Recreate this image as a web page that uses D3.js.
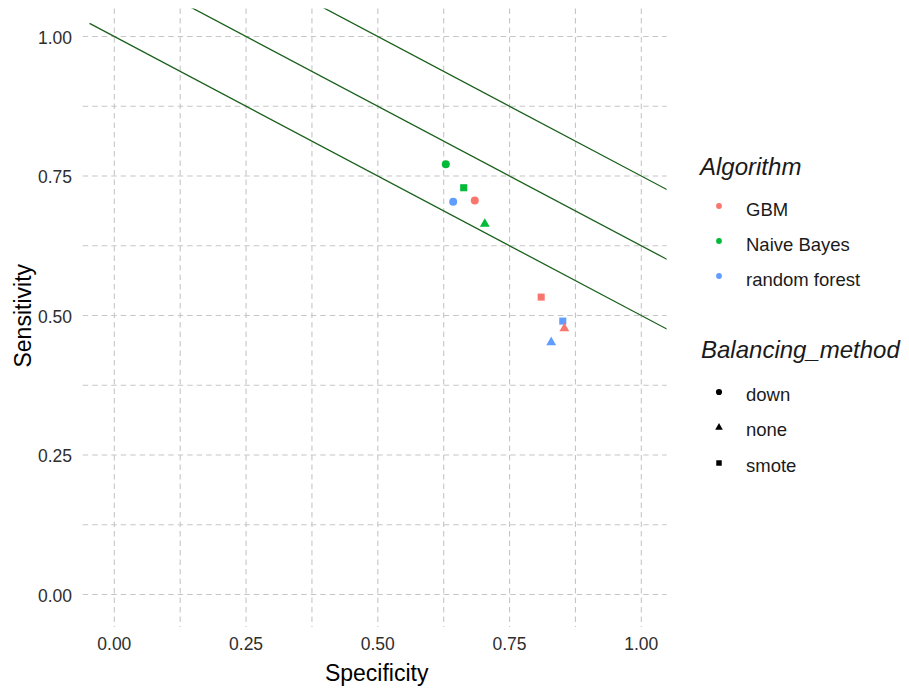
<!DOCTYPE html>
<html lang="en">
<head>
<meta charset="utf-8">
<title>Sensitivity vs Specificity</title>
<script src="https://cdn.jsdelivr.net/npm/d3@7"></script>
<style>
  body { margin: 0; background: #fff; font-family: "Liberation Sans", Arial, sans-serif; }
  .tick-label { fill: #2e2e2e; font-size: 17.5px; }
  .axis-title { fill: #000; font-size: 23px; }
  .legend-title { fill: #1a1a1a; font-size: 24px; font-style: italic; }
  .legend-label { fill: #1a1a1a; font-size: 18.5px; }
</style>
</head>
<body>
<div id="chart"></div>
<script>
// data
var algorithms = ["GBM", "Naive Bayes", "random forest"]
var methods = ["down", "none", "smote"]
var pointAlgorithm = ["Naive Bayes", "Naive Bayes", "random forest", "GBM", "Naive Bayes", "GBM", "random forest", "GBM", "random forest"]
var pointMethod = ["down", "smote", "down", "down", "none", "smote", "smote", "none", "none"]
var specificity = [0.629, 0.663, 0.643, 0.684, 0.703, 0.810, 0.851, 0.854, 0.829]
var sensitivity = [0.771, 0.729, 0.704, 0.706, 0.664, 0.533, 0.490, 0.477, 0.452]
var lineIntercepts = [1, 1.125, 1.25]
var lineSlope = -0.5
var majorTicks = [0, 0.25, 0.5, 0.75, 1]
var minorTicks = [0.125, 0.375, 0.625, 0.875]

var colors = ["#F8766D", "#00BA38", "#619CFF"]
var shapes = [d3.symbolCircle, d3.symbolTriangle, d3.symbolSquare]
var shapeSize = [50, 42, 50]

var width = 909, height = 689

var x = d3.scaleLinear().domain([-0.06, 1.048]).range([82.7, 666.6])
var y = d3.scaleLinear().domain([-0.058, 1.05]).range([626.9, 8.6])
var color = d3.scaleOrdinal().domain(algorithms).range(colors)
var shape = d3.scaleOrdinal().domain(methods).range(shapes)
var size = d3.scaleOrdinal().domain(methods).range(shapeSize)

var svg = d3.select("#chart").append("svg").attr("width", width).attr("height", height)

svg.append("clipPath").attr("id", "panel")
  .append("rect")
  .attr("x", x.range()[0]).attr("y", y.range()[1])
  .attr("width", x.range()[1] - x.range()[0])
  .attr("height", y.range()[0] - y.range()[1])

// grid (major and minor, all dashed)
var grid = svg.append("g").attr("stroke", "#c6c6c6").attr("stroke-width", 1.1).attr("stroke-dasharray", "5.5,4")
grid.selectAll(".vgrid")
  .data(majorTicks.concat(minorTicks))
  .enter().append("line")
  .attr("x1", function(d){ return x(d) }).attr("x2", function(d){ return x(d) })
  .attr("y1", y.range()[1]).attr("y2", y.range()[0])
grid.selectAll(".hgrid")
  .data(majorTicks.concat(minorTicks))
  .enter().append("line")
  .attr("y1", function(d){ return y(d) }).attr("y2", function(d){ return y(d) })
  .attr("x1", x.range()[0]).attr("x2", x.range()[1])

// tick labels
svg.selectAll(".xlab")
  .data(majorTicks)
  .enter().append("text")
  .attr("class", "tick-label")
  .attr("x", function(d){ return x(d) })
  .attr("y", 650)
  .attr("text-anchor", "middle")
  .text(d3.format(".2f"))

svg.selectAll(".ylab")
  .data(majorTicks)
  .enter().append("text")
  .attr("class", "tick-label")
  .attr("x", 72)
  .attr("y", function(d){ return y(d) + 7 })
  .attr("text-anchor", "end")
  .text(d3.format(".2f"))

// axis titles
svg.append("text").attr("class", "axis-title")
  .attr("x", (x.range()[0] + x.range()[1]) / 2 + 2).attr("y", 681)
  .attr("text-anchor", "middle").text("Specificity")
svg.append("text").attr("class", "axis-title")
  .attr("transform", "translate(31," + ((y.range()[0] + y.range()[1]) / 2 - 2) + ") rotate(-90)")
  .attr("text-anchor", "middle").text("Sensitivity")

// reference lines
var lineGen = d3.line()
  .x(function(d){ return x(d[0]) })
  .y(function(d){ return y(d[1]) })
svg.append("g").attr("clip-path", "url(#panel)")
  .selectAll("path")
  .data(lineIntercepts)
  .enter().append("path")
  .attr("d", function(b){ return lineGen([[-0.047, b + lineSlope * -0.047], [1.05, b + lineSlope * 1.05]]) })
  .attr("fill", "none")
  .attr("stroke", "#1a611c")
  .attr("stroke-width", 1.3)

// points
svg.append("g").selectAll("path")
  .data(specificity)
  .enter().append("path")
  .attr("transform", function(d, i){ return "translate(" + x(d) + "," + y(sensitivity[i]) + ")" })
  .attr("d", function(d, i){ return d3.symbol().type(shape(pointMethod[i])).size(size(pointMethod[i]))() })
  .attr("fill", function(d, i){ return color(pointAlgorithm[i]) })

// legend: Algorithm
svg.append("text").attr("class", "legend-title").attr("x", 700).attr("y", 175).text("Algorithm")
var algoY = [206, 241, 276]
svg.selectAll(".algoKey")
  .data(algorithms)
  .enter().append("circle")
  .attr("cx", 719).attr("cy", function(d, i){ return algoY[i] })
  .attr("r", 2.9)
  .attr("fill", function(d){ return color(d) })
svg.selectAll(".algoLab")
  .data(algorithms)
  .enter().append("text")
  .attr("class", "legend-label")
  .attr("x", 746).attr("y", function(d, i){ return algoY[i] + 9.5 })
  .text(function(d){ return d })

// legend: Balancing_method
svg.append("text").attr("class", "legend-title").attr("x", 701).attr("y", 358).text("Balancing_method")
var methY = [392, 427.5, 463]
svg.selectAll(".methKey")
  .data(methods)
  .enter().append("path")
  .attr("transform", function(d, i){ return "translate(719," + methY[i] + ")" })
  .attr("d", function(d){ return d3.symbol().type(shape(d)).size(size(d) * 0.6)() })
  .attr("fill", "#000")
svg.selectAll(".methLab")
  .data(methods)
  .enter().append("text")
  .attr("class", "legend-label")
  .attr("x", 746).attr("y", function(d, i){ return methY[i] + 8.5 })
  .text(function(d){ return d })
</script>
</body>
</html>
